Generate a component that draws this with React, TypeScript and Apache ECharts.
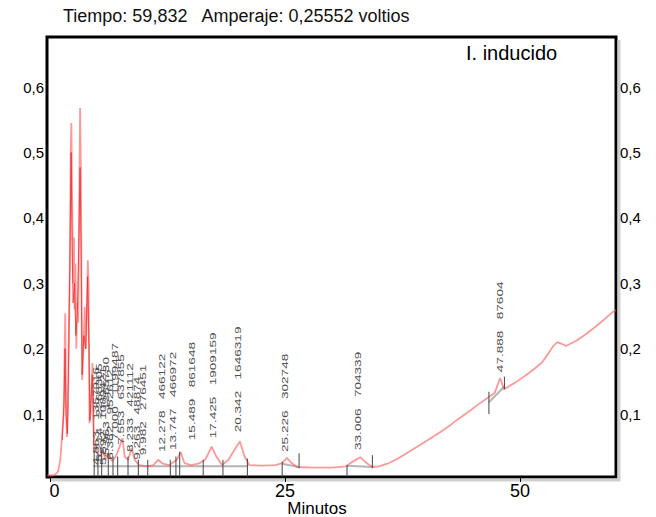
import React, { useEffect, useRef } from 'react';
import * as echarts from 'echarts';

const FONT = '"Liberation Sans", Arial, sans-serif';

const headerText = 'Tiempo: 59,832   Amperaje: 0,25552 voltios';
const traceName = 'I. inducido';
const xAxisName = 'Minutos';

const xTickValues = [0, 25, 50];
const yTickValues = [0.1, 0.2, 0.3, 0.4, 0.5, 0.6];

// main trace (minutes, volts)
const traceTimes = [
  -0.3, 0.3, 0.6, 0.85, 1.1, 1.3, 1.45, 1.55, 1.62, 1.7, 1.8, 1.9, 2.0, 2.12, 2.2, 2.27, 2.35, 2.45,
  2.55, 2.62, 2.7, 2.8, 2.9, 3.0, 3.1, 3.2, 3.28, 3.35, 3.42, 3.55, 3.7, 3.8, 3.92, 4.02, 4.1, 4.2,
  4.3, 4.42, 4.52, 4.6, 4.7, 4.85, 5.0, 5.3, 5.6, 5.9, 6.2, 6.6, 7.0, 7.4, 7.7, 7.95, 8.3, 8.7, 9.0,
  9.5, 10.3, 11.0, 11.5, 12.0, 12.7, 13.5, 13.9, 14.3, 15.0, 15.8, 16.5, 17.2, 17.7, 18.3, 19.0,
  19.6, 20.2, 20.7, 21.2, 22.5, 24.0, 24.7, 25.2, 25.7, 26.3, 28.0, 30.0, 31.5, 32.3, 33.0, 33.6,
  34.3, 35.0, 35.9, 36.8, 37.6, 38.5, 39.4, 40.5, 41.5, 42.6, 43.3, 44.5, 45.5, 46.7, 47.3, 47.9,
  48.3, 49.5, 51.0, 52.3, 53.0, 53.6, 54.0, 54.5, 54.9, 56.0, 57.0, 58.0, 59.0, 59.83, 60.22,
];
const traceAmps = [
  0.006, 0.006, 0.008, 0.012, 0.03, 0.07, 0.1, 0.19, 0.254, 0.12, 0.065, 0.1, 0.22, 0.33, 0.5, 0.545,
  0.44, 0.3, 0.37, 0.26, 0.33, 0.2, 0.27, 0.24, 0.4, 0.568, 0.48, 0.3, 0.152, 0.2, 0.264, 0.2, 0.25,
  0.335, 0.3, 0.086, 0.1, 0.14, 0.178, 0.12, 0.045, 0.055, 0.04, 0.035, 0.045, 0.03, 0.04, 0.028,
  0.035, 0.05, 0.063, 0.035, 0.03, 0.048, 0.03, 0.022, 0.02, 0.022, 0.03, 0.024, 0.022, 0.03, 0.042,
  0.025, 0.022, 0.024, 0.03, 0.05, 0.035, 0.022, 0.03, 0.045, 0.058, 0.035, 0.022, 0.021, 0.022,
  0.025, 0.033, 0.025, 0.019, 0.018, 0.018, 0.02, 0.028, 0.034, 0.026, 0.019, 0.02, 0.024, 0.03,
  0.037, 0.045, 0.053, 0.063, 0.072, 0.083, 0.091, 0.103, 0.114, 0.126, 0.132, 0.155, 0.138, 0.148,
  0.163, 0.178, 0.192, 0.205, 0.21, 0.207, 0.204, 0.212, 0.222, 0.233, 0.245, 0.2555, 0.259,
];

// darker core of the early peaks
const coreTimes = [
  1.3, 1.5, 1.6, 1.7, 1.85, 2.0, 2.15, 2.25, 2.35, 2.45, 2.6, 2.75, 2.9, 3.05, 3.2, 3.3, 3.42, 3.6,
  3.8, 4.0, 4.15, 4.25, 4.5, 4.65,
];
const coreAmps = [
  0.06, 0.12, 0.2, 0.1, 0.07, 0.2, 0.38, 0.5, 0.36, 0.27, 0.3, 0.22, 0.25, 0.35, 0.477, 0.36, 0.16,
  0.22, 0.2, 0.31, 0.2, 0.09, 0.16, 0.06,
];

// peak annotations (time, area)
const peakLabelTimes = [
  4.85, 5.21, 5.59, 5.96, 6.38, 6.91, 7.55, 8.51, 9.26, 9.89, 11.91, 13.09, 15.11, 17.34, 20.0, 25.0,
  32.8, 47.87,
];
const peakLabelAmps = [
  0.022, 0.027, 0.022, 0.037, 0.03, 0.06, 0.053, 0.042, 0.03, 0.037, 0.042, 0.045, 0.06, 0.063,
  0.072, 0.042, 0.045, 0.164,
];
const peakLabelTexts = [
  '4.853 1357916', '5.214 2268305', '5.592 1089421', '5.963 1265730', '6.382 952612',
  '7.000 1199487', '7.553 637855', '8.233 421112', '9.263 48874', '9.982 276451',
  '12.278 466122', '13.747 466972', '15.489 861648', '17.425 1909159', '20.342 1646319',
  '25.226 302748', '33.006 704339', '47.888 87604',
];

// integration marks
const markTimes = [
  4.7, 5.1, 5.5, 6.2, 6.7, 7.2, 8.3, 9.4, 10.4, 12.8, 13.4, 13.8, 16.3, 18.4, 21.0, 24.7, 26.5,
  31.6, 34.3, 46.7, 48.35,
];
const markLow = [
  0.004, 0.004, 0.004, 0.004, 0.004, 0.004, 0.004, 0.004, 0.004, 0.004, 0.004, 0.004, 0.004, 0.004,
  0.004, 0.004, 0.017, 0.004, 0.017, 0.1, 0.138,
];
const markHigh = [
  0.045, 0.04, 0.045, 0.04, 0.035, 0.035, 0.035, 0.03, 0.03, 0.03, 0.035, 0.042, 0.03, 0.03, 0.032,
  0.027, 0.04, 0.022, 0.037, 0.134, 0.157,
];

// baselines
const baseStartTimes = [4.6, 24.7, 31.6, 46.7];
const baseStartAmps = [0.02, 0.024, 0.021, 0.118];
const baseEndTimes = [21.0, 26.5, 34.3, 48.35];
const baseEndAmps = [0.02, 0.019, 0.019, 0.142];

const fmt = (v: number) => String(v).replace('.', ',');

export default function App() {
  const ref = useRef<HTMLDivElement>(null);
  useEffect(() => {
    if (!ref.current) return;
    const chart = echarts.init(ref.current, undefined, { renderer: 'svg' });
    const yAxisCommon = {
      type: 'value',
      min: 0.0037,
      max: 0.6765,
      axisLine: { show: false },
      axisTick: { show: false },
      splitLine: { show: false },
    };
    chart.setOption({
      animation: false,
      backgroundColor: '#fff',
      title: {
        text: headerText,
        left: 58,
        top: 2,
        textStyle: { fontFamily: FONT, fontSize: 18, fontWeight: 'normal', color: '#111' },
      },
      grid: {
        left: 47,
        top: 37,
        width: 569,
        height: 440,
        show: true,
        borderColor: '#000',
        borderWidth: 3,
        backgroundColor: '#fff',
      },
      xAxis: {
        type: 'value',
        min: -0.32,
        max: 60.22,
        axisLine: { show: false },
        splitLine: { show: false },
        axisTick: {
          show: true,
          customValues: xTickValues,
          length: 5,
          lineStyle: { color: '#000', width: 1 },
        },
        axisLabel: {
          customValues: xTickValues,
          fontFamily: FONT,
          fontSize: 18,
          color: '#000',
          margin: 5,
          formatter: (v: number) => (v === 0 ? '{z|0}' : String(v)),
          rich: { z: { fontFamily: FONT, fontSize: 18, color: '#000', padding: [0, 0, 0, 9] } },
        },
      },
      yAxis: [
        {
          ...yAxisCommon,
          position: 'left',
          axisLabel: {
            customValues: yTickValues,
            fontFamily: FONT,
            fontSize: 15,
            color: '#000',
            margin: 3,
            formatter: fmt,
          },
        },
        {
          ...yAxisCommon,
          position: 'right',
          axisLabel: {
            customValues: yTickValues,
            fontFamily: FONT,
            fontSize: 15,
            color: '#000',
            margin: 4,
            formatter: fmt,
          },
        },
      ],
      graphic: [
        {
          type: 'line',
          shape: { x1: 619, y1: 40, x2: 619, y2: 481 },
          style: { stroke: '#cfcfcf', lineWidth: 3 },
          silent: true,
        },
        {
          type: 'line',
          shape: { x1: 50, y1: 480, x2: 620, y2: 480 },
          style: { stroke: '#cfcfcf', lineWidth: 3 },
          silent: true,
        },
        {
          type: 'text',
          left: 466,
          top: 43,
          style: { text: traceName, fontFamily: FONT, fontSize: 20, fill: '#000' },
          z: 10,
        },
        {
          type: 'text',
          x: 317,
          y: 508,
          style: {
            text: xAxisName,
            fontFamily: FONT,
            fontSize: 17,
            fill: '#000',
            align: 'center',
            verticalAlign: 'middle',
          },
        },
      ],
      series: [
        {
          type: 'custom',
          name: 'baseline',
          silent: true,
          z: 2,
          encode: { x: [0, 2], y: [1, 3] },
          data: baseStartTimes.map((t, i) => [t, baseStartAmps[i], baseEndTimes[i], baseEndAmps[i]]),
          renderItem: (params: any, api: any) => {
            const a = api.coord([api.value(0), api.value(1)]);
            const b = api.coord([api.value(2), api.value(3)]);
            return {
              type: 'line',
              shape: { x1: a[0], y1: a[1], x2: b[0], y2: b[1] },
              style: { stroke: '#b5b5b5', lineWidth: 2 },
            };
          },
        },
        {
          type: 'line',
          name: traceName,
          data: traceTimes.map((t, i) => [t, traceAmps[i]]),
          showSymbol: false,
          symbol: 'none',
          z: 3,
          lineStyle: { color: 'rgba(250,90,90,0.62)', width: 1.8 },
        },
        {
          type: 'line',
          name: 'core',
          data: coreTimes.map((t, i) => [t, coreAmps[i]]),
          showSymbol: false,
          symbol: 'none',
          z: 4,
          lineStyle: { color: 'rgba(240,30,30,0.7)', width: 1 },
        },
        {
          type: 'custom',
          name: 'marks',
          silent: true,
          z: 5,
          encode: { x: 0, y: [1, 2] },
          data: markTimes.map((t, i) => [t, markLow[i], markHigh[i]]),
          renderItem: (params: any, api: any) => {
            const a = api.coord([api.value(0), api.value(1)]);
            const b = api.coord([api.value(0), api.value(2)]);
            return {
              type: 'line',
              shape: { x1: a[0], y1: a[1], x2: b[0], y2: b[1] },
              style: { stroke: '#444', lineWidth: 1 },
            };
          },
        },
        {
          type: 'custom',
          name: 'labels',
          silent: true,
          z: 6,
          clip: false,
          encode: { x: 0, y: 1 },
          data: peakLabelTimes.map((t, i) => [t, peakLabelAmps[i]]),
          renderItem: (params: any, api: any) => {
            const p = api.coord([api.value(0), api.value(1)]);
            return {
              type: 'text',
              x: p[0],
              y: p[1],
              rotation: Math.PI / 2,
              scaleX: 1.6,
              scaleY: 1,
              style: {
                text: peakLabelTexts[params.dataIndex].replace(' ', '   '),
                fontFamily: FONT,
                fontSize: 8.5,
                fill: '#505050',
                align: 'left',
                verticalAlign: 'middle',
              },
            };
          },
        },
      ],
    });
    return () => chart.dispose();
  }, []);
  return (
    <div
      ref={ref}
      style={{ position: 'fixed', left: 0, top: 0, width: 656, height: 517, background: '#fff' }}
    />
  );
}
